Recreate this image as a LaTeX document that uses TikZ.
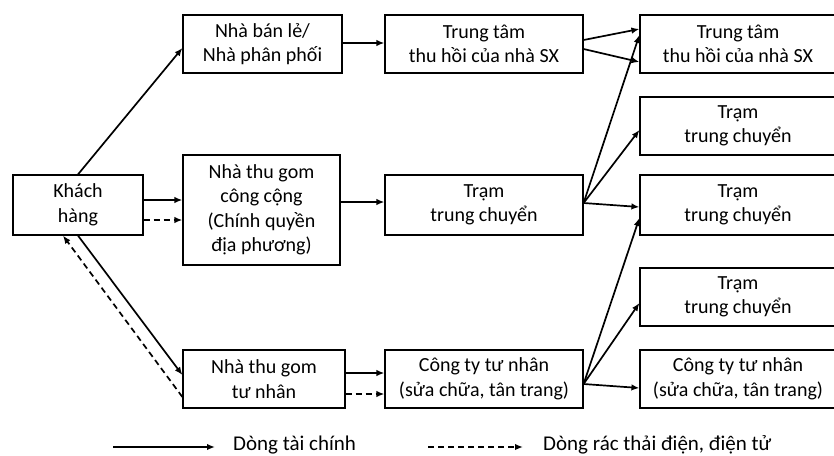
\documentclass[tikz,border=0pt]{standalone}
\usepackage{fontspec}
\setmainfont{Carlito}
\usetikzlibrary{arrows.meta,calc}
\begin{document}
\begin{tikzpicture}[x=1pt,y=-1pt,
  box/.style={draw=black, line width=1.2pt, align=center, inner sep=0pt,
    font=\fontsize{20}{24.5}\selectfont},
  fin/.style={line width=1.7pt, -{Latex[length=8pt,width=6.5pt]}},
  waste/.style={line width=1.7pt, dash pattern=on 6pt off 4pt, -{Latex[length=8pt,width=6.5pt]}},
  legend/.style={font=\fontsize{21}{25}\selectfont, anchor=west, inner sep=0pt}]
\useasboundingbox (0,0) rectangle (834,455);
% left column
\node[box, minimum width=130pt, minimum height=60pt] (kh) at (78,205) {Khách\\hàng};
% second column
\node[box, minimum width=159pt, minimum height=58pt] (ban) at (262.5,44) {Nhà bán lẻ/\\Nhà phân phối};
\node[box, minimum width=157pt, minimum height=110pt] (cong) at (261.5,210) {Nhà thu gom\\công cộng\\(Chính quyền\\địa phương)};
\node[box, minimum width=162pt, minimum height=58pt] (tn) at (264,379) {Nhà thu gom\\tư nhân};
% third column
\node[box, minimum width=198pt, minimum height=58pt] (tt1) at (484,44) {Trung tâm\\thu hồi của nhà SX};
\node[box, minimum width=198pt, minimum height=60pt] (tr1) at (484,205) {Trạm\\trung chuyển};
\node[box, minimum width=198pt, minimum height=58pt] (ct1) at (484,379) {Công ty tư nhân\\(sửa chữa, tân trang)};
% right column
\node[box, minimum width=196pt, minimum height=58pt] (rt1) at (738,44) {Trung tâm\\thu hồi của nhà SX};
\node[box, minimum width=196pt, minimum height=58pt] (rt2) at (738,126) {Trạm\\trung chuyển};
\node[box, minimum width=196pt, minimum height=60pt] (rt3) at (738,205) {Trạm\\trung chuyển};
\node[box, minimum width=196pt, minimum height=58pt] (rt4) at (738,297) {Trạm\\trung chuyển};
\node[box, minimum width=196pt, minimum height=58pt] (rt5) at (738,379) {Công ty tư nhân\\(sửa chữa, tân trang)};
% connectors from customer
\draw[fin] (kh.north) -- (ban.west |- 0,48);
\draw[fin] (kh.east |- 0,200) -- (cong.west |- 0,200);
\draw[waste] (kh.east |- 0,220) -- (cong.west |- 0,220);
\draw[fin] (kh.south) -- (tn.west |- 0,375);
\draw[waste] (tn.west |- 0,397) -- (kh.south -| 63,0);
% second to third column
\draw[fin] (ban.east |- 0,43) -- (tt1.west |- 0,43);
\draw[fin] (cong.east |- 0,202) -- (tr1.west |- 0,202);
\draw[fin] (tn.east |- 0,373) -- (ct1.west |- 0,373);
\draw[waste] (tn.east |- 0,394) -- (ct1.west |- 0,394);
% third to right column
\draw[fin] (tt1.east |- 0,40) -- (rt1.west |- 0,29);
\draw[fin] (tt1.east |- 0,49) -- (rt1.west |- 0,62);
\draw[fin] (tr1.east |- 0,203) -- (rt1.west |- 0,35);
\draw[fin] (tr1.east |- 0,203) -- (rt2.west |- 0,130);
\draw[fin] (tr1.east |- 0,203) -- (rt3.west |- 0,207);
\draw[fin] (ct1.east |- 0,384) -- (rt3.west |- 0,218);
\draw[fin] (ct1.east |- 0,384) -- (rt4.west |- 0,303);
\draw[fin] (ct1.east |- 0,384) -- (rt5.west |- 0,388);
% legend
\coordinate (l1a) at (113,447);
\node[legend] (l1) at (233,445) {Dòng tài chính};
\draw[fin] (l1a) -- ($(l1.west)+(-18,2)$);
\coordinate (l2a) at (428,447);
\node[legend] (l2) at (543,445) {Dòng rác thải điện, điện tử};
\draw[waste] (l2a) -- ($(l2.west)+(-20,2)$);
\end{tikzpicture}
\end{document}
